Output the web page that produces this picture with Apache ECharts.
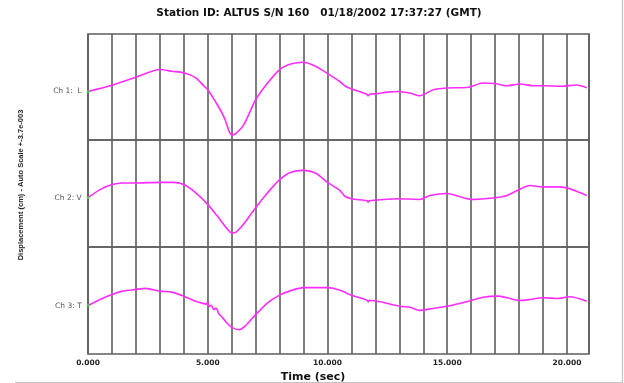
<!DOCTYPE html>
<html>
<head>
<meta charset="utf-8">
<script src="https://cdn.jsdelivr.net/npm/echarts@6/dist/echarts.min.js"></script>
<style>
  html, body { margin: 0; padding: 0; background: #fff; }
  #chart { width: 624px; height: 383px; }
</style>
</head>
<body>
<div id="chart"></div>
<script>
// Seismic displacement record, three channels, values in units of 1e-3 cm
const titleText = 'Station ID: ALTUS S/N 160   01/18/2002 17:37:27 (GMT)';
const yAxisTitle = 'Displacement (cm) - Auto Scale +-3.7e-003';
const xAxisTitle = 'Time (sec)';
const channelNames = ['Ch 1:  L', 'Ch 2: V', 'Ch 3: T'];
const tickLabels = ['0.000', '5.000', '10.000', '15.000', '20.000'];
const timeMax = 20.92;
const scaleHalf = 3.7;

// Channel 1 (L)
const ch1Time = [0, 1, 2, 3, 3.5, 4, 4.5, 4.85, 5, 5.4, 5.7, 5.9, 6.0, 6.15, 6.5, 7, 7.5, 8, 8.5, 9, 9.5, 10, 10.5, 10.8, 11.3, 11.65, 11.7, 11.75, 12.05, 12.5, 12.95, 13.45, 13.86, 14.42, 14.98, 15.5, 15.88, 16.5, 16.98, 17.48, 18.04, 18.6, 19.16, 19.78, 20.4, 20.83];
const ch1Value = [-0.31, 0.12, 0.68, 1.22, 1.10, 0.99, 0.64, 0.05, -0.19, -1.24, -2.18, -3.12, -3.35, -3.28, -2.65, -0.89, 0.28, 1.22, 1.62, 1.73, 1.45, 0.94, 0.40, 0.00, -0.30, -0.50, -0.62, -0.50, -0.47, -0.36, -0.31, -0.42, -0.61, -0.19, -0.07, -0.05, -0.02, 0.28, 0.24, 0.09, 0.21, 0.09, 0.09, 0.05, 0.14, -0.05];

// Channel 2 (V)
const ch2Time = [0, 0.5, 1, 1.45, 2, 3, 3.55, 4, 4.5, 5, 5.4, 5.8, 6, 6.2, 6.55, 7, 7.5, 8, 8.45, 9, 9.5, 10, 10.5, 10.73, 11, 11.65, 11.7, 11.75, 12, 13, 13.86, 14.28, 15, 15.46, 16, 17, 17.5, 18, 18.46, 19, 19.57, 20, 20.4, 20.83];
const ch2Value = [-0.29, 0.27, 0.62, 0.73, 0.73, 0.77, 0.77, 0.62, 0.05, -0.75, -1.56, -2.42, -2.74, -2.65, -2.01, -0.98, 0.05, 0.96, 1.46, 1.60, 1.42, 0.77, 0.23, -0.19, -0.36, -0.50, -0.60, -0.50, -0.46, -0.36, -0.41, -0.14, 0.00, -0.19, -0.41, -0.29, -0.14, 0.27, 0.55, 0.46, 0.46, 0.39, 0.16, -0.14];

// Channel 3 (T)
const ch3Time = [0, 0.5, 1, 1.45, 2, 2.4, 3, 3.5, 4, 4.5, 4.8, 4.95, 5.0, 5.05, 5.15, 5.25, 5.35, 5.45, 5.6, 5.8, 6, 6.3, 6.55, 7, 7.5, 8, 8.5, 9, 10, 10.5, 11, 11.65, 11.7, 11.75, 12.2, 13, 13.45, 13.86, 14.28, 15, 16, 16.5, 17.13, 17.5, 18, 18.46, 19, 19.57, 20.13, 20.83];
const ch3Value = [-0.35, 0.07, 0.42, 0.65, 0.77, 0.84, 0.65, 0.58, 0.30, -0.05, -0.20, -0.25, -0.08, -0.42, -0.33, -0.62, -0.52, -0.88, -1.15, -1.56, -1.86, -2.02, -1.79, -0.98, -0.16, 0.37, 0.70, 0.89, 0.89, 0.72, 0.37, 0.02, -0.10, 0.02, -0.09, -0.40, -0.47, -0.68, -0.58, -0.40, 0.00, 0.23, 0.30, 0.19, 0.00, 0.07, 0.19, 0.14, 0.26, -0.05];

const channels = [
  { name: channelNames[0], time: ch1Time, value: ch1Value },
  { name: channelNames[1], time: ch2Time, value: ch2Value },
  { name: channelNames[2], time: ch3Time, value: ch3Value }
];

const panelTops = [34, 140, 247];
const panelHeights = [106, 107, 107];
const frameColor = '#5e5e5e';
const traceColor = '#ff2cff';
const boldFont = 'DejaVu Sans';

const grids = [], xAxes = [], yAxes = [], series = [];
channels.forEach((ch, i) => {
  grids.push({
    left: 88, width: 501, top: panelTops[i], height: panelHeights[i],
    show: true, borderColor: frameColor, borderWidth: 1.6, backgroundColor: 'transparent'
  });
  const isBottom = i === channels.length - 1;
  xAxes.push({
    gridIndex: i, type: 'value', min: 0, max: timeMax, interval: 1,
    axisLine: { show: false }, axisTick: { show: false },
    splitLine: { show: true, lineStyle: { color: frameColor, width: 1.6 } },
    axisLabel: {
      show: isBottom, margin: 5, fontSize: 7.5, fontWeight: 'bold', color: '#222',
      fontFamily: boldFont,
      showMaxLabel: false,
      formatter: v => (Math.abs(v % 5) < 1e-9 ? tickLabels[Math.round(v / 5)] || '' : '')
    }
  });
  yAxes.push({
    gridIndex: i, type: 'value', min: -scaleHalf, max: scaleHalf,
    axisLine: { show: false }, axisTick: { show: false },
    splitLine: { show: false }, axisLabel: { show: false }
  });
  const data = ch.time.map((t, k) => {
    if (k === 0) {
      return {
        value: [t, ch.value[k]],
        symbol: 'circle', symbolSize: 2.5,
        itemStyle: { color: '#33dd33' },
        label: {
          show: true, position: 'left', distance: 5,
          formatter: ch.name, fontSize: 7.5, color: '#555',
          fontFamily: 'DejaVu Sans'
        }
      };
    }
    return [t, ch.value[k]];
  });
  series.push({
    type: 'line', xAxisIndex: i, yAxisIndex: i,
    data: data, smooth: 0.25, showSymbol: true, symbol: 'none',
    lineStyle: { color: traceColor, width: 1.6 },
    silent: true, animation: false
  });
});

const chart = echarts.init(document.getElementById('chart'), null, { renderer: 'canvas' });
chart.setOption({
  backgroundColor: '#fff',
  animation: false,
  title: {
    text: titleText, left: 314, top: 3, textAlign: 'center',
    textStyle: { fontSize: 10.5, fontWeight: 'bold', color: '#111', fontFamily: boldFont }
  },
  grid: grids,
  xAxis: xAxes,
  yAxis: yAxes,
  series: series,
  graphic: [
    {
      type: 'text', x: 20.5, y: 185, rotation: Math.PI / 2,
      style: {
        text: yAxisTitle, fontSize: 7.5, fontWeight: 'bold', fill: '#222',
        fontFamily: 'Liberation Sans', textAlign: 'center', textVerticalAlign: 'middle'
      }
    },
    {
      type: 'text', x: 313, y: 377,
      style: {
        text: xAxisTitle, fontSize: 11, fontWeight: 'bold', fill: '#111',
        fontFamily: boldFont, textAlign: 'center', textVerticalAlign: 'middle'
      }
    },
    { type: 'line', shape: { x1: 15, y1: 382.5, x2: 623, y2: 382.5 }, style: { stroke: '#c4c4c4', lineWidth: 1.2 } },
    { type: 'line', shape: { x1: 622.5, y1: 0, x2: 622.5, y2: 383 }, style: { stroke: '#c4c4c4', lineWidth: 1.2 } }
  ]
});
</script>
</body>
</html>
